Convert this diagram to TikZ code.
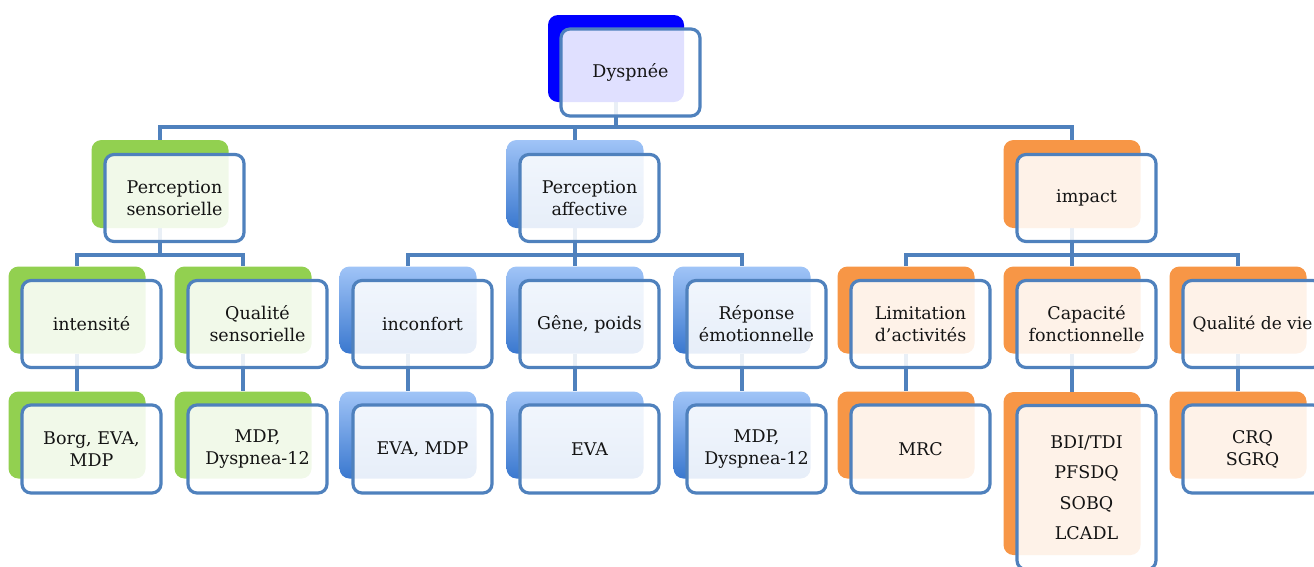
\documentclass[tikz,border=0pt]{standalone}
\usepackage{fontspec}
\setmainfont{DejaVu Serif}
\definecolor{wireblue}{HTML}{4F81BD}
\definecolor{topblue}{HTML}{0000FF}
\definecolor{mygreen}{HTML}{92D050}
\definecolor{myorange}{HTML}{F79646}
\definecolor{blueA}{HTML}{A0C4F7}
\definecolor{blueB}{HTML}{3A78CF}
\definecolor{textgray}{HTML}{141414}
\pgfdeclarelayer{background}
\pgfsetlayers{background,main}
\newcommand\mkbox[8]{%
  \node[#2,minimum height=#5pt] (#1-s) at (#3,#4) {};
  \node[frontbox,minimum height=#6pt,#8] (#1) at (#3+14.5,#4+14) {#7};}
\begin{document}
\begin{tikzpicture}[x=1pt,y=-1pt,
  wire/.style={draw=wireblue,line width=3.2pt},
  shadowbox/.style={rectangle,rounded corners=10pt,minimum width=137pt,inner sep=0pt},
  frontbox/.style={rectangle,rounded corners=9pt,draw=wireblue,line width=3.2pt,
    fill=white,fill opacity=0.88,text opacity=1,minimum width=139pt,inner sep=0pt,
    align=center,font=\fontsize{17.5}{22}\selectfont,text=textgray},
  gsh/.style={shadowbox,fill=mygreen},
  bsh/.style={shadowbox,top color=blueA,bottom color=blueB},
  osh/.style={shadowbox,fill=myorange},
  tsh/.style={shadowbox,fill=topblue,minimum width=136pt}]
\useasboundingbox (0,0) rectangle (1314,566);
\clip (0,0) rectangle (1314,566);
% level 0
\mkbox{d}{tsh}{616}{58.5}{87}{87}{Dyspnée}{}
% level 1
\mkbox{ps}{gsh}{160}{184}{88}{87}{Perception\\sensorielle}{}
\mkbox{pa}{bsh}{575}{184}{88}{87}{Perception\\affective}{}
\mkbox{im}{osh}{1072}{184}{88}{87}{impact}{}
% level 2
\mkbox{in}{gsh}{77}{310}{87}{87}{intensité}{}
\mkbox{qs}{gsh}{243}{310}{87}{87}{Qualité\\sensorielle}{}
\mkbox{ic}{bsh}{408}{310}{87}{87}{inconfort}{}
\mkbox{gp}{bsh}{575}{310}{87}{87}{Gêne, poids}{}
\mkbox{re}{bsh}{742}{310}{87}{87}{Réponse\\émotionnelle}{}
\mkbox{li}{osh}{906}{310}{87}{87}{Limitation\\d’activités}{}
\mkbox{cf}{osh}{1072}{310}{87}{87}{Capacité\\fonctionnelle}{}
\mkbox{qv}{osh}{1238}{310}{87}{87}{Qualité de vie}{font=\fontsize{17}{22}\selectfont}
% level 3
\mkbox{bo}{gsh}{77}{435}{87}{88}{Borg, EVA,\\MDP}{}
\mkbox{md}{gsh}{243}{435}{87}{88}{MDP,\\Dyspnea-12}{}
\mkbox{em}{bsh}{408}{435}{87}{88}{EVA, MDP}{}
\mkbox{ev}{bsh}{575}{435}{87}{88}{EVA}{}
\mkbox{mx}{bsh}{742}{435}{87}{88}{MDP,\\Dyspnea-12}{}
\mkbox{mr}{osh}{906}{435}{87}{88}{MRC}{}
\mkbox{bd}{osh}{1072}{473.5}{163}{164}{BDI/TDI\\PFSDQ\\SOBQ\\LCADL}{font=\fontsize{17.5}{30.5}\selectfont}
\mkbox{cr}{osh}{1238}{435}{87}{88}{CRQ\\SGRQ}{}
\coordinate (b0) at (0,127);
\coordinate (b1) at (0,255);
\begin{pgfonlayer}{background}
\foreach \c in {ps,pa,im}
  \draw[wire] (d-s.south) -- (d-s.south |- b0) -| (\c-s.north);
\foreach \c in {in,qs}
  \draw[wire] (ps-s.south) -- (ps-s.south |- b1) -| (\c-s.north);
\foreach \c in {ic,gp,re}
  \draw[wire] (pa-s.south) -- (pa-s.south |- b1) -| (\c-s.north);
\foreach \c in {li,cf,qv}
  \draw[wire] (im-s.south) -- (im-s.south |- b1) -| (\c-s.north);
\draw[wire] (in-s.south) -- (bo-s.north);
\draw[wire] (qs-s.south) -- (md-s.north);
\draw[wire] (ic-s.south) -- (em-s.north);
\draw[wire] (gp-s.south) -- (ev-s.north);
\draw[wire] (re-s.south) -- (mx-s.north);
\draw[wire] (li-s.south) -- (mr-s.north);
\draw[wire] (cf-s.south) -- (bd-s.north);
\draw[wire] (qv-s.south) -- (cr-s.north);
\end{pgfonlayer}
\end{tikzpicture}
\end{document}
